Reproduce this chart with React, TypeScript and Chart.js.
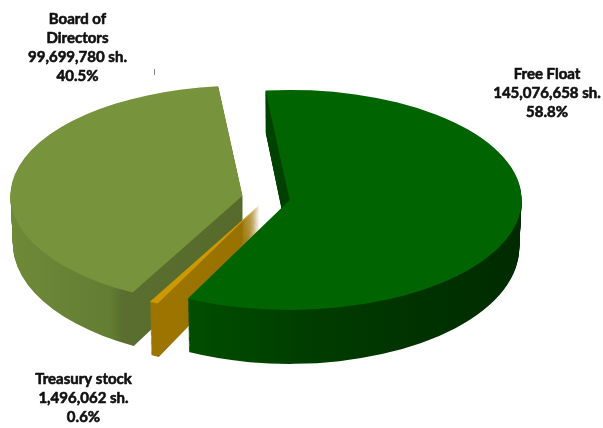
import React, { useEffect, useRef } from "react";
import { Chart, registerables } from "chart.js";

Chart.register(...registerables);

// ---- data ----
const categories = ["Free Float", "Treasury stock", "Board of Directors"];
const shares = [145076658, 1496062, 99699780];
const shareLabels = ["145,076,658 sh.", "1,496,062 sh.", "99,699,780 sh."];
const percentLabels = ["58.8%", "0.6%", "40.5%"];

// ---- style ----
const topColors = ["#006400", "#cc9900", "#77933c"];
const sideStops: [number, string][][] = [
  [[180, "#004f00"], [300, "#003e00"], [420, "#003200"], [525, "#002b00"]],
  [[130, "#9e7500"], [260, "#987100"]],
  [[13, "#6e8a38"], [110, "#637d33"], [122, "#5a6e2f"], [250, "#566a2c"]],
];
const explode = [23, 16, 25];
const CX = 267;
const CY = 198;
const RX = 232;
const RY = 110;
const DEPTH = 48;

const labelBlocks = [
  { lines: ["Free Float", shareLabels[0], percentLabels[0]], x: 547, y: 78.7 },
  { lines: ["Treasury stock", shareLabels[1], percentLabels[1]], x: 83.5, y: 384.3 },
  { lines: ["Board of", "Directors", shareLabels[2], percentLabels[2]], x: 77.5, y: 24.3 },
];

const pie3d = {
  id: "pie3d",
  beforeDatasetsDraw(chart: any) {
    const ctx: CanvasRenderingContext2D = chart.ctx;
    const meta = chart.getDatasetMeta(0);
    const arcs = meta.data as any[];
    if (!arcs.length) return false;
    const cx = arcs[0].x;
    const cy = arcs[0].y;
    const R = arcs[0].outerRadius;
    for (let d = DEPTH; d >= 0; d--) {
      const rx = RX - d * 0.05;
      const ry = RY + d * 0.125;
      const sx = rx / R;
      const sy = ry / R;
      arcs.forEach((arc: any, i: number) => {
        const mid = (arc.startAngle + arc.endAngle) / 2;
        const ex = Math.cos(mid) * explode[i];
        const ey = Math.sin(mid) * explode[i] * (RY / RX);
        const tx = CX + ex;
        const ty = CY + ey + d;
        ctx.save();
        ctx.translate(tx, ty);
        ctx.scale(sx, sy);
        ctx.translate(-cx, -cy);
        let fill: any = topColors[i];
        if (d > 0) {
          const stops = sideStops[i];
          const x0 = (stops[0][0] - tx) / sx + cx;
          const x1 = (stops[stops.length - 1][0] - tx) / sx + cx;
          const g = ctx.createLinearGradient(x0, 0, x1, 0);
          const span = stops[stops.length - 1][0] - stops[0][0];
          stops.forEach(([sxp, col]) => g.addColorStop((sxp - stops[0][0]) / span, col));
          fill = g;
        }
        const orig = arc.options;
        arc.options = Object.assign({}, orig, { backgroundColor: fill, borderWidth: 0 });
        arc.draw(ctx);
        arc.options = orig;
        ctx.restore();
      });
    }
    return false;
  },
  afterDraw(chart: any) {
    const ctx: CanvasRenderingContext2D = chart.ctx;
    ctx.save();
    ctx.fillStyle = "#111111";
    ctx.strokeStyle = "#111111";
    ctx.lineWidth = 0.6;
    ctx.lineJoin = "round";
    ctx.font = "bold 15px Lato";
    ctx.textAlign = "center";
    ctx.textBaseline = "alphabetic";
    labelBlocks.forEach((b) => {
      b.lines.forEach((t, k) => {
        ctx.fillText(t, b.x, b.y + k * 19);
        ctx.strokeText(t, b.x, b.y + k * 19);
      });
    });
    ctx.strokeStyle = "#888888";
    ctx.lineWidth = 1;
    ctx.beginPath();
    ctx.moveTo(154.5, 69);
    ctx.lineTo(154.5, 75);
    ctx.stroke();
    ctx.restore();
  },
};

export default function App() {
  const ref = useRef<HTMLCanvasElement | null>(null);
  useEffect(() => {
    document.body.style.margin = "0";
    const canvas = ref.current!;
    const chart = new Chart(canvas, {
      type: "pie",
      data: {
        labels: categories,
        datasets: [
          {
            data: shares,
            backgroundColor: topColors,
            borderWidth: 0,
          },
        ],
      },
      options: {
        responsive: false,
        animation: false,
        rotation: -6,
        events: [],
        plugins: {
          legend: { display: false },
          tooltip: { enabled: false },
        },
      },
      plugins: [pie3d],
    });
    return () => chart.destroy();
  }, []);
  return (
    <div style={{ position: "absolute", left: 0, top: 0, width: 603, height: 428, background: "#fff" }}>
      <canvas ref={ref} width={603} height={428} />
    </div>
  );
}
